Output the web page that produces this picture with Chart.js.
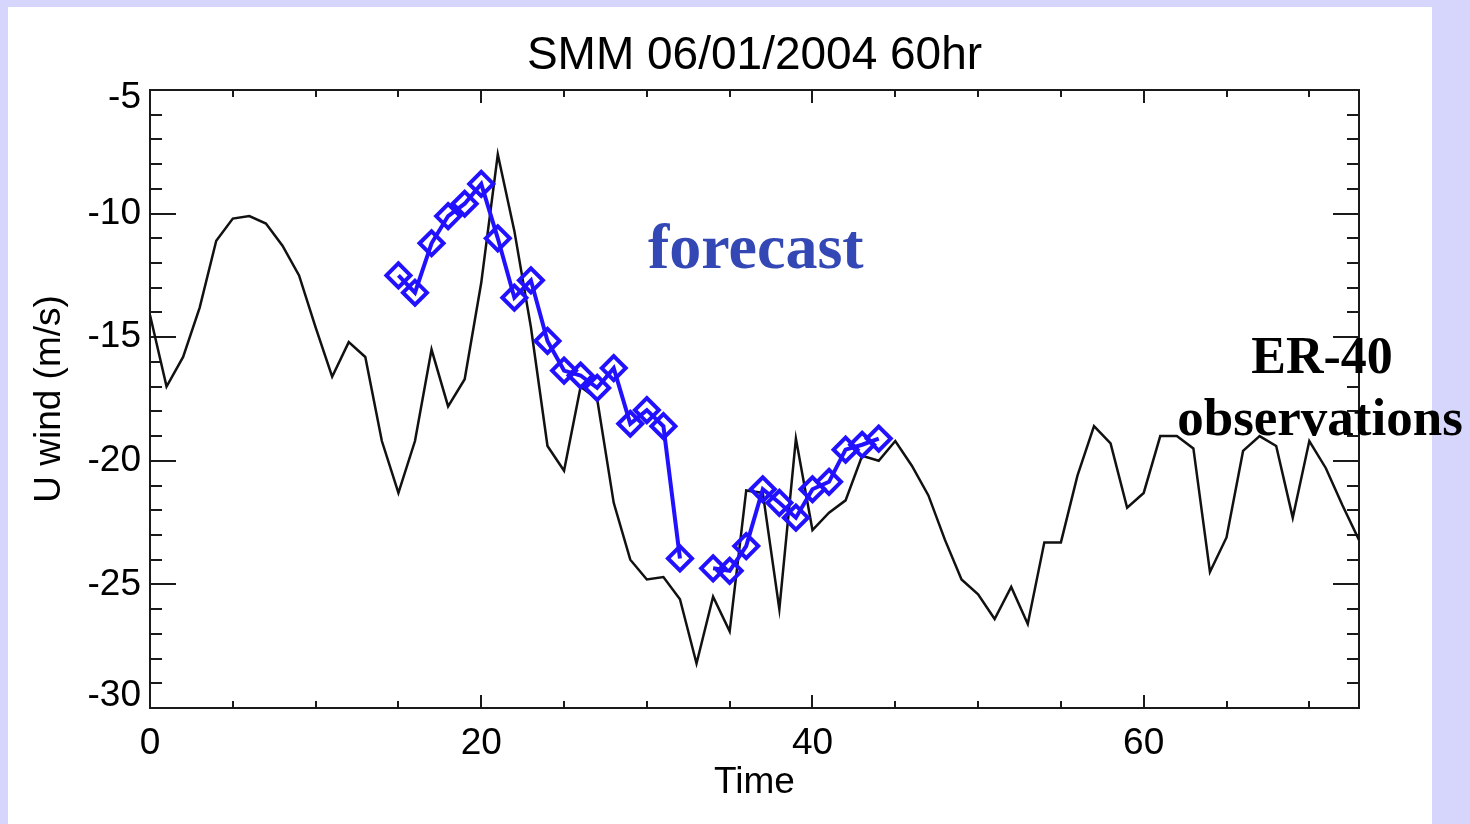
<!DOCTYPE html>
<html>
<head>
<meta charset="utf-8">
<title>SMM 06/01/2004 60hr</title>
<script src="https://cdn.jsdelivr.net/npm/chart.js@4.4.1/dist/chart.umd.min.js"></script>
<style>
  html, body { margin: 0; padding: 0; background: #d6d6fc; overflow: hidden; }
  canvas { display: block; }
</style>
</head>
<body>
<canvas id="chart" width="1470" height="824"></canvas>
<script>
// ER-40 observed U wind, hourly
const obsHours = [0, 1, 2, 3, 4, 5, 6, 7, 8, 9, 10, 11, 12, 13, 14, 15, 16, 17, 18, 19,
  20, 21, 22, 23, 24, 25, 26, 27, 28, 29, 30, 31, 32, 33, 34, 35, 36, 37, 38, 39,
  40, 41, 42, 43, 44, 45, 46, 47, 48, 49, 50, 51, 52, 53, 54, 55, 56, 57, 58, 59,
  60, 61, 62, 63, 64, 65, 66, 67, 68, 69, 70, 71, 72, 73];
const obsU = [-14.1, -17.0, -15.8, -13.8, -11.1, -10.2, -10.1, -10.4, -11.3, -12.5,
  -14.6, -16.6, -15.2, -15.8, -19.2, -21.3, -19.2, -15.5, -17.8, -16.7,
  -12.8, -7.6, -10.7, -14.6, -19.4, -20.4, -17.0, -17.5, -21.7, -24.0,
  -24.8, -24.7, -25.6, -28.2, -25.5, -26.9, -21.2, -21.3, -26.0, -19.1,
  -22.8, -22.1, -21.6, -19.8, -20.0, -19.2, -20.2, -21.4, -23.2, -24.8,
  -25.4, -26.4, -25.1, -26.6, -23.3, -23.3, -20.6, -18.6, -19.3, -21.9,
  -21.3, -19.0, -19.0, -19.5, -24.5, -23.1, -19.6, -19.0, -19.4, -22.3,
  -19.2, -20.3, -21.8, -23.2];

// 60 hr forecast of U wind (no value at hour 33)
const fcHours = [15, 16, 17, 18, 19, 20, 21, 22, 23, 24, 25, 26, 27, 28, 29,
  30, 31, 32, 33, 34, 35, 36, 37, 38, 39, 40, 41, 42, 43, 44];
const fcU = [-12.5, -13.2, -11.2, -10.1, -9.6, -8.8, -11.0, -13.4, -12.7, -15.15,
  -16.35, -16.55, -17.05, -16.25, -18.5, -17.95, -18.6, -23.95, null, -24.35,
  -24.45, -23.45, -21.15, -21.7, -22.3, -21.15, -20.85, -19.55, -19.35, -19.1];

const xTickValues = [0, 20, 40, 60];
const yTickValues = [-30, -25, -20, -15, -10, -5];

const toPoints = (xs, ys) => xs.map((x, i) => ({ x: x, y: ys[i] }));

const SANS = '"Liberation Sans", Arial, sans-serif';
const SERIF = '"Liberation Serif", "Times New Roman", serif';

// page background, plot frame with inward ticks, and the text annotations
const framePlugin = {
  id: 'frame',
  beforeDraw(chart) {
    const { ctx, width, height } = chart;
    ctx.save();
    ctx.fillStyle = '#d6d6fc';
    ctx.fillRect(0, 0, width, height);
    ctx.fillStyle = '#ffffff';
    ctx.fillRect(8, 7, 1424, height - 7);
    ctx.restore();
  },
  beforeDatasetsDraw(chart) {
    const { ctx, chartArea: a, scales: { x, y } } = chart;
    ctx.save();
    ctx.strokeStyle = '#1a1a1a';
    ctx.lineWidth = 2;
    ctx.strokeRect(a.left, a.top, a.right - a.left, a.bottom - a.top);
    ctx.beginPath();
    for (let v = x.min; v <= x.max; v += 5) {
      const px = Math.round(x.getPixelForValue(v));
      const len = v % 20 === 0 ? 13 : 7;
      ctx.moveTo(px, a.bottom); ctx.lineTo(px, a.bottom - len);
      ctx.moveTo(px, a.top); ctx.lineTo(px, a.top + len);
    }
    for (let v = y.min; v <= y.max; v += 1) {
      const py = Math.round(y.getPixelForValue(v));
      const len = v % 5 === 0 ? 26 : 12;
      ctx.moveTo(a.left, py); ctx.lineTo(a.left + len, py);
      ctx.moveTo(a.right, py); ctx.lineTo(a.right - len, py);
    }
    ctx.stroke();
    ctx.restore();
  },
  afterDraw(chart) {
    const { ctx } = chart;
    ctx.save();
    ctx.textBaseline = 'alphabetic';
    ctx.fillStyle = '#3347b5';
    ctx.textAlign = 'left';
    ctx.font = 'bold 64px ' + SERIF;
    ctx.fillText('forecast', 648, 268);
    ctx.fillStyle = '#000000';
    ctx.textAlign = 'center';
    ctx.font = 'bold 52px ' + SERIF;
    ctx.fillText('ER-40', 1322, 373);
    ctx.font = 'bold 53px ' + SERIF;
    ctx.fillText('observations', 1320, 435);
    ctx.restore();
  }
};

new Chart(document.getElementById('chart'), {
  type: 'line',
  data: {
    datasets: [
      {
        label: 'forecast',
        data: toPoints(fcHours, fcU),
        order: 0,
        borderColor: '#2211ff',
        borderWidth: 4,
        spanGaps: false,
        tension: 0,
        pointStyle: 'rectRot',
        pointRadius: 12,
        pointBorderWidth: 4,
        pointBorderColor: '#2211ff',
        pointBackgroundColor: 'rgba(0,0,0,0)'
      },
      {
        label: 'ER-40 observations',
        data: toPoints(obsHours, obsU),
        order: 1,
        borderColor: '#111111',
        borderWidth: 2.5,
        tension: 0,
        pointRadius: 0
      }
    ]
  },
  options: {
    responsive: false,
    animation: false,
    devicePixelRatio: 1,
    layout: { padding: { left: 0, top: 0, right: 111, bottom: 0 } },
    plugins: {
      legend: { display: false },
      tooltip: { enabled: false },
      title: {
        display: true,
        text: 'SMM 06/01/2004 60hr',
        fullSize: false,
        color: '#000000',
        font: { family: SANS, size: 46, weight: 'normal', lineHeight: 1 },
        padding: { top: 33, bottom: 11 }
      }
    },
    scales: {
      x: {
        type: 'linear',
        min: 0,
        max: 73,
        grid: { display: false, drawTicks: false },
        border: { display: false },
        afterBuildTicks: s => { s.ticks = xTickValues.map(v => ({ value: v })); },
        afterFit: s => { s.height = 116; },
        ticks: {
          includeBounds: false,
          maxRotation: 0,
          padding: 17,
          color: '#000000',
          font: { family: SANS, size: 37, lineHeight: 1 }
        },
        title: {
          display: true,
          text: 'Time',
          color: '#000000',
          font: { family: SANS, size: 37, lineHeight: 1 },
          padding: { top: 0, bottom: 23 }
        }
      },
      y: {
        type: 'linear',
        min: -30,
        max: -5,
        grid: { display: false, drawTicks: false },
        border: { display: false },
        afterBuildTicks: s => { s.ticks = yTickValues.map(v => ({ value: v })); },
        afterFit: s => { s.width = 150; },
        ticks: {
          padding: 9,
          color: '#000000',
          // the end labels are nudged inside the frame
          callback: v => v === -5 ? ['', '-5'] : (v === -30 ? ['-30', ''] : String(v)),
          font: c => ({
            family: SANS,
            size: 37,
            lineHeight: c.tick && c.tick.value === -5 ? '16px' : (c.tick && c.tick.value === -30 ? '24px' : 1)
          })
        },
        title: {
          display: true,
          text: 'U wind (m/s)',
          color: '#000000',
          font: { family: SANS, size: 37, lineHeight: 1 },
          padding: { top: 31, bottom: 0 }
        }
      }
    }
  },
  plugins: [framePlugin]
});
</script>
</body>
</html>
